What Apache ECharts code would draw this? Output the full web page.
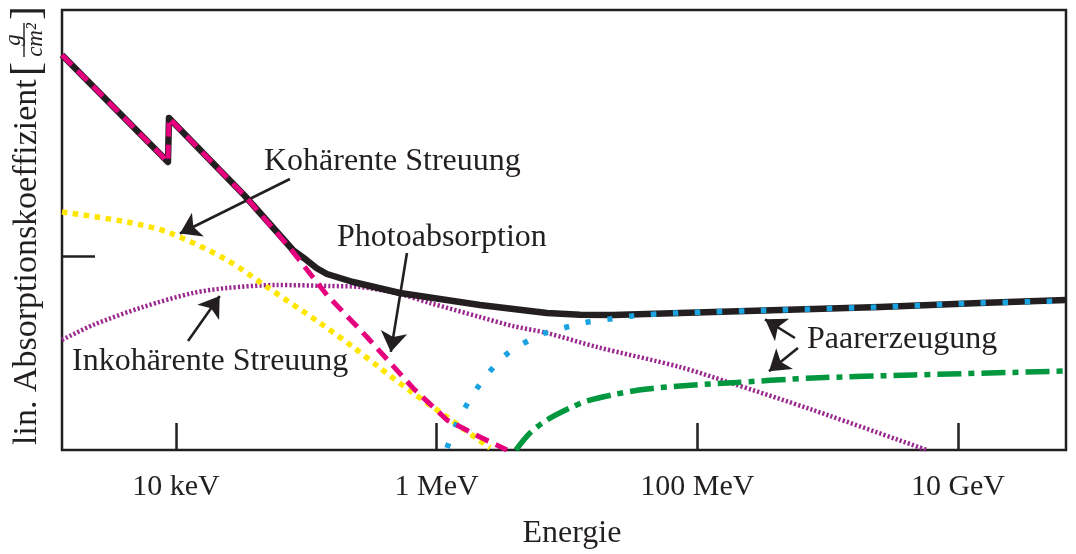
<!DOCTYPE html>
<html><head><meta charset="utf-8">
<script src="https://cdn.jsdelivr.net/npm/echarts@6/dist/echarts.min.js"></script>
<style>html,body{margin:0;padding:0;background:#fff}#c{width:1076px;height:554px}</style>
</head><body><div id="c"></div>
<script>
// x values are log10(E / keV); y values are an arbitrary linear scale 0..100
const tickPositions = [1, 3, 5, 7];
const tickLabels = ['10 keV', '1 MeV', '100 MeV', '10 GeV'];
const yTickPositions = [44.09];

const total = [[0.125,89.77],[0.938,65.45],[0.946,75.45],[1.529,57.73],[1.897,45.45],[2.000,43.2],[2.080,41.3],[2.158,40.0],[2.358,38.18],[2.718,35.68],[3.332,32.95],[3.846,31.14],[4.100,30.75],[4.353,30.68],[4.867,31.14],[5.634,31.82],[6.401,32.5],[7.169,33.41],[7.829,34.09]];
const photo = [[0.125,89.77],[0.938,65.45],[0.946,75.45],[1.529,57.73],[1.874,45.91],[2.158,35.23],[2.465,25.68],[2.818,14.09],[3.079,6.82],[3.332,2.95],[3.539,0]];
const coherent = [[0.125,54.09],[0.624,51.82],[0.954,49.32],[1.391,43.18],[1.698,37.05],[2.105,28.86],[2.358,23.41],[2.565,18.64],[2.818,12.95],[3.079,7.5],[3.409,0.45]];
const incoherent = [[0.125,25.0],[0.363,28.41],[0.747,32.5],[1.130,35.68],[1.391,36.82],[1.775,37.5],[2.181,37.27],[2.412,37.05],[2.718,35.45],[2.949,33.41],[3.332,30.23],[3.585,28.18],[3.846,26.59],[4.230,23.41],[4.867,18.86],[5.235,15.45],[5.887,9.09],[6.762,0]];
const pairTotal = [[3.079,0.45],[3.148,5.68],[3.225,10.0],[3.317,14.32],[3.417,18.18],[3.539,21.82],[3.685,24.55],[3.831,26.59],[4.000,27.95],[4.161,29.09],[4.330,29.77],[4.498,30.45],[4.836,31.14],[5.634,31.82],[6.401,32.5],[7.169,33.41],[7.829,33.86]];
const pairElectron = [[3.608,0],[3.716,3.86],[3.846,6.82],[4.023,9.55],[4.153,11.14],[4.383,12.73],[4.614,13.86],[4.867,14.55],[5.235,15.23],[5.887,16.36],[6.655,17.05],[7.829,17.95]];

// annotation arrows: [from, to] in data coordinates
const arrows = [
  [[1.874,61.59],[1.030,49.2]],
  [[2.772,44.77],[2.648,22.3]],
  [[1.092,24.77],[1.335,35.0]],
  [[5.749,25.45],[5.520,29.7]],
  [[5.772,23.18],[5.550,17.9]]
];

const INK = '#231f20';
const SERIF = '"Liberation Serif", "Times New Roman", serif';

const chart = echarts.init(document.getElementById('c'), null, {renderer: 'canvas'});

function lineSeries(name, data, color, width, type, smooth, z) {
  return {
    name, type: 'line', data, smooth, showSymbol: false, symbol: 'none', z,
    lineStyle: {color, width, type, cap: 'butt', join: 'round'},
    animation: false, silent: true
  };
}

const arrowSeries = {
  type: 'line', data: [], z: 20, silent: true, animation: false,
  markLine: {
    silent: true, animation: false,
    symbol: ['none', 'arrow'], symbolSize: 20,
    label: {show: false},
    lineStyle: {color: INK, width: 2.6, type: 'solid'},
    emphasis: {disabled: true},
    data: arrows.map(a => [{coord: a[0]}, {coord: a[1]}])
  }
};

function txt(x, y, s, size) {
  return {type: 'text', x, y, z: 30, style: {text: s, font: size + 'px ' + SERIF, fill: INK, align: 'left', verticalAlign: 'middle', textAlign: 'left', textVerticalAlign: 'middle'}};
}
function ctxt(x, y, s, font) {
  return {type: 'text', x, y, style: {text: s, font, fill: INK, align: 'center', verticalAlign: 'middle', textAlign: 'center', textVerticalAlign: 'middle'}};
}

chart.setOption({
  animation: false,
  grid: {left: 62, right: 10, top: 10, bottom: 104, show: true, borderColor: INK, borderWidth: 2.5, backgroundColor: 'transparent'},
  xAxis: {
    type: 'value', min: 0.125, max: 7.829,
    axisLine: {show: false},
    splitLine: {show: false},
    axisTick: {show: true, inside: true, length: 27, lineStyle: {color: INK, width: 2.5}, customValues: tickPositions},
    axisLabel: {show: true, margin: 22, color: INK, fontFamily: SERIF, fontSize: 30, customValues: tickPositions,
      formatter: v => { const i = tickPositions.findIndex(t => Math.abs(t - v) < 1e-6); return i >= 0 ? tickLabels[i] : ''; }}
  },
  yAxis: {
    type: 'value', min: 0, max: 100,
    axisLine: {show: false},
    splitLine: {show: false},
    axisTick: {show: true, inside: true, length: 33, lineStyle: {color: INK, width: 2.5}, customValues: yTickPositions},
    axisLabel: {show: false}
  },
  series: [
    lineSeries('Inkohärente Streuung', incoherent, '#9b2a90', 4.5, [2.2, 2.1], 0.3, 2),
    lineSeries('Kohärente Streuung', coherent, '#ffe600', 5.5, [5.5, 5.5], 0.3, 3),
    lineSeries('Paarerzeugung (Elektronfeld)', pairElectron, '#00973f', 5.5, [24, 7, 6, 7], 0.3, 4),
    lineSeries('Gesamt', total, INK, 6.5, 'solid', false, 5),
    lineSeries('Paarerzeugung', pairTotal, '#1aa3e0', 5.5, [5.5, 16.5], 0.3, 6),
    lineSeries('Photoabsorption', photo, '#e5007d', 5, [14, 8], false, 7),
    arrowSeries
  ],
  graphic: [
    txt(264, 162, 'Kohärente Streuung', 32),
    txt(337, 238, 'Photoabsorption', 32),
    txt(72, 362, 'Inkohärente Streuung', 32),
    txt(807, 340, 'Paarerzeugung', 32),
    ctxt(572, 534, 'Energie', '32px ' + SERIF),
    {type: 'group', x: 27, y: 445, rotation: Math.PI / 2, children: [
      {type: 'text', x: 0, y: 0, style: {text: 'lin. Absorptionskoeffizient', font: '34px ' + SERIF, fill: INK, align: 'left', verticalAlign: 'middle', textAlign: 'left', textVerticalAlign: 'middle'}},
      ctxt(376, 1, '[', '42px ' + SERIF),
      ctxt(405, -13, 'g', 'italic 23px ' + SERIF),
      {type: 'line', shape: {x1: 388, y1: -3, x2: 422, y2: -3}, style: {stroke: INK, lineWidth: 1.4}},
      ctxt(405, 9, 'cm²', 'italic 23px ' + SERIF),
      ctxt(432, 1, ']', '42px ' + SERIF)
    ]}
  ]
});
</script>
</body></html>
